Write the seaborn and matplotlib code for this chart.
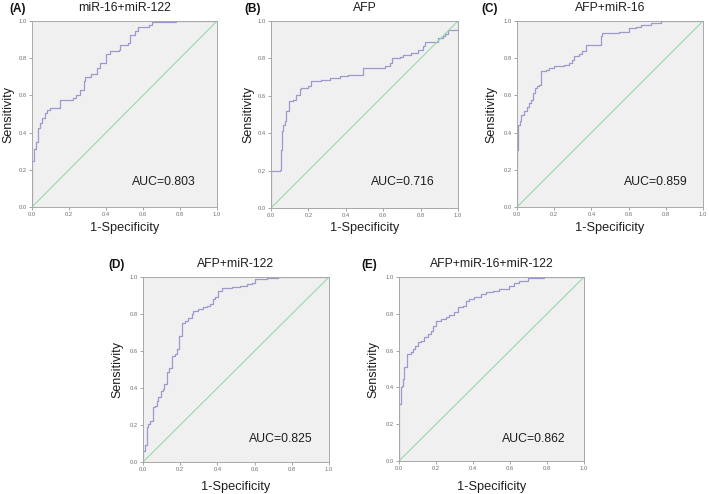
import matplotlib
matplotlib.use("Agg")
import matplotlib.pyplot as plt
import seaborn as sns
import pandas as pd

sns.set_theme(style="white")
plt.rcParams['font.family'] = ['Liberation Sans', 'DejaVu Sans']

# ---------------- data ----------------
titles = ["miR-16+miR-122", "AFP", "AFP+miR-16", "AFP+miR-122", "AFP+miR-16+miR-122"]
letters = ["(A)", "(B)", "(C)", "(D)", "(E)"]
auc_labels = ["AUC=0.803", "AUC=0.716", "AUC=0.859", "AUC=0.825", "AUC=0.862"]

fpr_a = [0.0, 0.0, 0.011, 0.022, 0.032, 0.043, 0.054, 0.070, 0.080, 0.097, 0.150, 0.220, 0.240, 0.260,
         0.280, 0.286, 0.320, 0.350, 0.370, 0.400, 0.420, 0.470, 0.476, 0.520, 0.530, 0.557, 0.575,
         0.630, 0.647, 0.780, 1.0]
tpr_a = [0.0, 0.245, 0.31, 0.35, 0.425, 0.45, 0.48, 0.505, 0.52, 0.53, 0.577, 0.586, 0.60, 0.63,
         0.675, 0.70, 0.715, 0.747, 0.774, 0.82, 0.84, 0.845, 0.873, 0.88, 0.927, 0.944, 0.97,
         0.98, 0.995, 1.0, 1.0]

fpr_b = [0.0, 0.0, 0.046, 0.052, 0.059, 0.066, 0.073, 0.082, 0.094, 0.118, 0.135, 0.153, 0.162, 0.198,
         0.216, 0.270, 0.314, 0.367, 0.410, 0.492, 0.608, 0.635, 0.647, 0.688, 0.706, 0.750, 0.786,
         0.813, 0.822, 0.875, 0.893, 0.920, 0.929, 0.947, 1.0, 1.0]
tpr_b = [0.0, 0.196, 0.205, 0.31, 0.41, 0.445, 0.465, 0.517, 0.57, 0.58, 0.606, 0.636, 0.64, 0.65,
         0.677, 0.686, 0.695, 0.704, 0.713, 0.749, 0.758, 0.775, 0.80, 0.81, 0.82, 0.83, 0.847,
         0.865, 0.886, 0.89, 0.91, 0.918, 0.93, 0.953, 0.953, 1.0]

fpr_c = [0.0, 0.0, 0.005, 0.016, 0.023, 0.038, 0.052, 0.065, 0.077, 0.088, 0.095, 0.106, 0.118, 0.127,
         0.154, 0.172, 0.199, 0.253, 0.280, 0.297, 0.306, 0.333, 0.351, 0.369, 0.450, 0.459, 0.548,
         0.602, 0.638, 0.665, 0.719, 0.772, 1.0]
tpr_c = [0.0, 0.308, 0.443, 0.46, 0.496, 0.514, 0.54, 0.56, 0.577, 0.613, 0.64, 0.65, 0.658, 0.73,
         0.738, 0.747, 0.756, 0.765, 0.774, 0.79, 0.81, 0.82, 0.838, 0.873, 0.918, 0.935, 0.94,
         0.96, 0.97, 0.98, 0.99, 1.0, 1.0]

fpr_d = [0.0, 0.0, 0.011, 0.020, 0.029, 0.038, 0.052, 0.065, 0.073, 0.082, 0.095, 0.106, 0.113, 0.127,
         0.142, 0.154, 0.172, 0.181, 0.195, 0.208, 0.226, 0.244, 0.262, 0.270, 0.297, 0.324, 0.342,
         0.360, 0.375, 0.387, 0.405, 0.423, 0.477, 0.520, 0.557, 0.584, 0.602, 0.665, 0.728, 1.0]
tpr_d = [0.0, 0.06, 0.09, 0.187, 0.205, 0.223, 0.295, 0.305, 0.33, 0.35, 0.385, 0.395, 0.42, 0.485,
         0.51, 0.575, 0.584, 0.61, 0.683, 0.75, 0.764, 0.78, 0.80, 0.818, 0.827, 0.836, 0.845,
         0.854, 0.88, 0.89, 0.926, 0.94, 0.944, 0.953, 0.962, 0.97, 0.99, 0.995, 1.0, 1.0]

fpr_e = [0.0, 0.0, 0.009, 0.016, 0.023, 0.029, 0.041, 0.065, 0.074, 0.088, 0.101, 0.119, 0.137, 0.155,
         0.173, 0.186, 0.200, 0.227, 0.254, 0.272, 0.299, 0.317, 0.344, 0.362, 0.380, 0.407, 0.443,
         0.470, 0.506, 0.542, 0.596, 0.623, 0.650, 0.695, 0.786, 1.0]
tpr_e = [0.0, 0.31, 0.40, 0.41, 0.445, 0.51, 0.58, 0.59, 0.61, 0.627, 0.645, 0.654, 0.672, 0.69,
         0.708, 0.735, 0.763, 0.772, 0.784, 0.795, 0.808, 0.835, 0.844, 0.871, 0.88, 0.89, 0.908,
         0.917, 0.926, 0.935, 0.953, 0.97, 0.98, 0.995, 1.0, 1.0]

curves = [(fpr_a, tpr_a), (fpr_b, tpr_b), (fpr_c, tpr_c), (fpr_d, tpr_d), (fpr_e, tpr_e)]
ticks = [0.0, 0.2, 0.4, 0.6, 0.8, 1.0]
tick_labels = ["0.0", "0.2", "0.4", "0.6", "0.8", "1.0"]

# ---------------- layout ----------------
W, H = 709, 494
# axes rectangles in pixels: left, top, right, bottom
boxes = [(32, 21, 217, 207), (271, 21, 458, 208), (517, 21, 703, 207),
         (143, 277, 329, 462), (399, 277, 584, 461)]
auc_pos = [(0.71, 0.135), (0.705, 0.14), (0.745, 0.135), (0.74, 0.125), (0.73, 0.12)]
letter_x = [18, 253, 490, 117, 369]
ylabel_off = [24, 23, 26, 26, 26]     # px left of axes (label centre)
xlabel_off = [21, 20, 21, 25, 26]     # px below axes (label centre)

curve_color = "#9A9ACC"
diag_color = "#98D8AC"
bg_color = "#F0F0F0"
spine_color = "#A8A8A8"
text_color = "#1E1E1E"

fig = plt.figure(figsize=(W / 100, H / 100), dpi=100)
fig.patch.set_facecolor("white")

for i, (l, t, r, b) in enumerate(boxes):
    ax = fig.add_axes([l / W, (H - b) / H, (r - l) / W, (b - t) / H])
    ax.set_facecolor(bg_color)
    fpr, tpr = curves[i]
    df = pd.DataFrame({"fpr": fpr, "tpr": tpr})
    sns.lineplot(data=df, x="fpr", y="tpr", ax=ax, sort=False, estimator=None,
                 color=curve_color, linewidth=0.9, drawstyle="steps-post")
    ref = pd.DataFrame({"x": [0.0, 1.0], "y": [0.0, 1.0]})
    sns.lineplot(data=ref, x="x", y="y", ax=ax, color=diag_color, linewidth=0.8)
    ax.set_xlim(0, 1)
    ax.set_ylim(0, 1)
    ax.set_xticks(ticks)
    ax.set_yticks(ticks)
    ax.set_xticklabels(tick_labels)
    ax.set_yticklabels(tick_labels)
    ax.tick_params(axis="both", which="major", labelsize=4.2, labelcolor="#707070",
                   length=2, width=0.5, color="#808080", pad=1.5, direction="out",
                   bottom=True, left=True)
    for s in ax.spines.values():
        s.set_color(spine_color)
        s.set_linewidth(0.7)
    w_px, h_px = r - l, b - t
    ax.set_xlabel("1-Specificity", fontsize=9.2, color=text_color)
    ax.set_ylabel("Sensitivity", fontsize=9.0, color=text_color)
    ax.xaxis.set_label_coords(0.5, -xlabel_off[i] / h_px)
    ax.yaxis.set_label_coords(-ylabel_off[i] / w_px, 0.5)
    ax.xaxis.label.set_va("center")
    ax.yaxis.label.set_va("center")
    ax.set_title(titles[i], fontsize=8.8, color=text_color, pad=7)
    ax.text(auc_pos[i][0], auc_pos[i][1], auc_labels[i], transform=ax.transAxes,
            fontsize=8.8, color=text_color, ha="center", va="center")
    fig.text(letter_x[i] / W, 1 - (t - 12) / H, letters[i], fontsize=8.5,
             fontweight="bold", color="#111111", ha="center", va="center")

fig.savefig("out.png", dpi=100)
